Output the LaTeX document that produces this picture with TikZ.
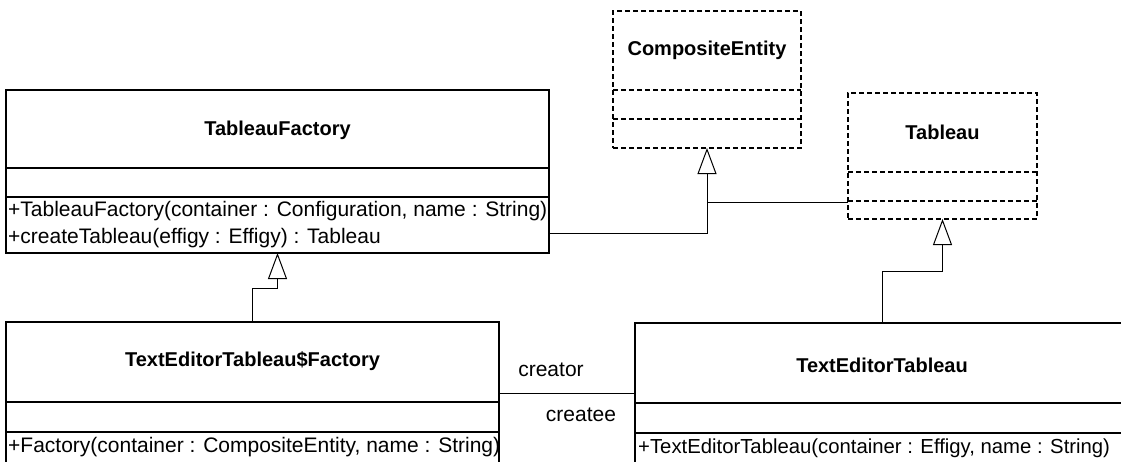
\documentclass[tikz,border=0pt]{standalone}
\usepackage{fontspec}
\setmainfont{Liberation Sans}
\usetikzlibrary{arrows.meta}
\begin{document}
\begin{tikzpicture}[x=1pt,y=-1pt,
  cls/.style={draw, line width=2pt, rectangle, anchor=north west, inner sep=0pt, outer sep=0pt},
  iface/.style={cls, dash pattern=on 5pt off 3pt},
  ttl/.style={font=\bfseries\fontsize{20}{24}\selectfont, inner sep=0pt},
  meth/.style={font=\fontsize{21}{25}\selectfont, inner sep=0pt, anchor=west},
  lbl/.style={font=\fontsize{21}{25}\selectfont, inner sep=0pt},
  conn/.style={draw, line width=1pt},
  inh/.style={conn, -{Triangle[open,length=26pt,width=19pt,line width=1pt]}},
  divs/.style={line width=2pt},
  divd/.style={line width=2pt, dash pattern=on 5pt off 3pt},
]
\fill[white] (0,0) rectangle (1121,461);
\useasboundingbox (0,0) rectangle (1121,461);

% TableauFactory
\node[cls, minimum width=543pt, minimum height=163pt] (tf) at (6,90) {};
\node[ttl] (tft) at (tf.center |- 0,130) {TableauFactory};
\draw[divs] (tf.west |- 0,168) -- (tf.east |- 0,168);
\draw[divs] (tf.west |- 0,197) -- (tf.east |- 0,197);
\node[meth] (tfm1) at (8,211) {+TableauFactory(container : Configuration, name : String)};
\node[meth] (tfm2) at (8,238) {+createTableau(effigy : Effigy) : Tableau};

% CompositeEntity
\node[iface, minimum width=188pt, minimum height=137pt] (ce) at (613,11) {};
\node[ttl] (cet) at (ce.center |- 0,50) {CompositeEntity};
\draw[divd] (ce.west |- 0,90) -- (ce.east |- 0,90);
\draw[divd] (ce.west |- 0,119) -- (ce.east |- 0,119);

% Tableau
\node[iface, minimum width=189pt, minimum height=126pt] (tab) at (848,93) {};
\node[ttl] (tabt) at (tab.center |- 0,132) {Tableau};
\draw[divd] (tab.west |- 0,172) -- (tab.east |- 0,172);
\draw[divd] (tab.west |- 0,201) -- (tab.east |- 0,201);

% TextEditorTableau$Factory
\node[cls, minimum width=493pt, minimum height=150pt] (tetf) at (6,322) {};
\node[ttl] (tetft) at (tetf.center |- 0,361) {TextEditorTableau\$Factory};
\draw[divs] (tetf.west |- 0,402) -- (tetf.east |- 0,402);
\draw[divs] (tetf.west |- 0,432) -- (tetf.east |- 0,432);
\node[meth] (tetfm) at (8,447) {+Factory(container : CompositeEntity, name : String)};

% TextEditorTableau
\node[cls, minimum width=494pt, minimum height=150pt] (tet) at (635,323) {};
\node[ttl] (tett) at (tet.center |- 0,365) {TextEditorTableau};
\draw[divs] (tet.west |- 0,403) -- (tet.east |- 0,403);
\draw[divs] (tet.west |- 0,433) -- (tet.east |- 0,433);
\node[meth, font=\fontsize{20.3}{24}\selectfont] (tetm) at (638,448) {+TextEditorTableau(container : Effigy, name : String)};

% generalisations
\draw[inh] (tetf.north) -- (tetf.north |- 0,288) -- (tf.south |- 0,288) -- (tf.south);
\draw[inh] (tf.east |- 0,233) -- (ce.south |- 0,233) -- (ce.south);
\draw[conn] (tab.west |- 0,202) -- (ce.south |- 0,202);
\draw[inh] (tet.north) -- (tet.north |- 0,271) -- (tab.south |- 0,271) -- (tab.south);

% association
\draw[conn] (tetf.east |- 0,393) -- (tet.west |- 0,393);
\node[lbl] (creator) at (551,370) {creator};
\node[lbl] (createe) at (581,415) {createe};
\end{tikzpicture}
\end{document}
